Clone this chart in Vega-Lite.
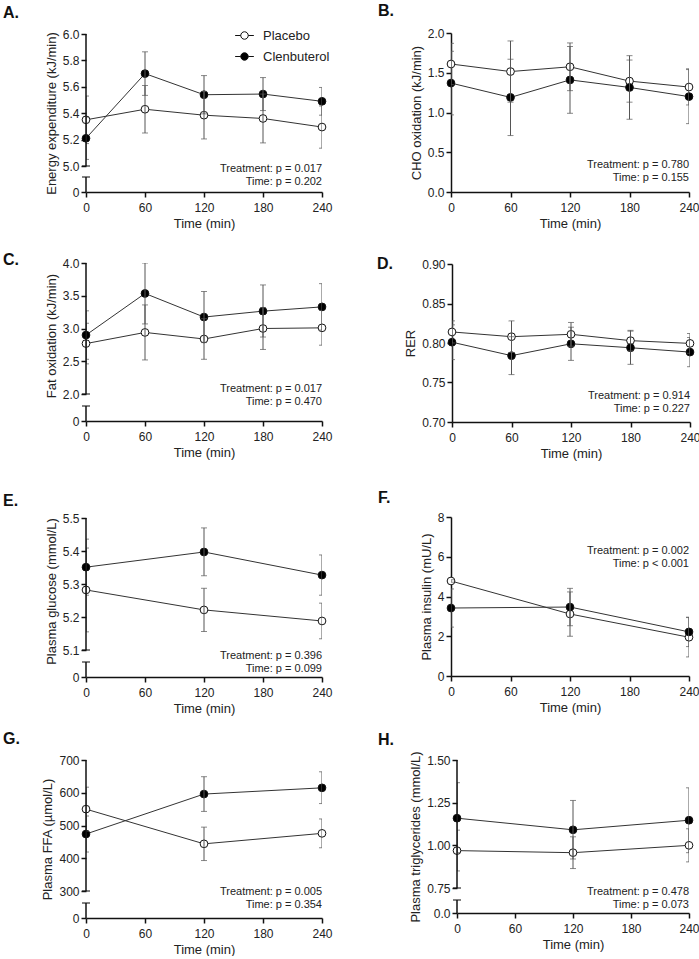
{
 "$schema": "https://vega.github.io/schema/vega-lite/v6.json",
 "padding": {"left": 3, "top": 3, "right": 0, "bottom": 0},
 "background": "white",
 "config": {
  "view": {"stroke": null},
  "font": "Liberation Sans",
  "axis": {"grid": false, "domainColor": "#111", "domainWidth": 1.5, "tickColor": "#111", "tickWidth": 1.5, "tickSize": 5, "labelFont": "Liberation Sans", "labelFontSize": 12, "labelColor": "#222", "titleFont": "Liberation Sans", "titleFontSize": 13, "titleFontWeight": "normal", "titleColor": "#222", "labelPadding": 2, "titlePadding": 4, "labelFlush": false, "labelOverlap": false},
  "axisX": {"labelPadding": 5, "titlePadding": 4, "titleFontWeight": "normal", "labelOverlap": false},
  "axisY": {"titleFontWeight": "normal", "labelOverlap": false},
  "title": {"font": "Liberation Sans", "fontSize": 16, "fontWeight": "bold", "anchor": "start", "frame": "group", "color": "#111"},
  "legend": {"labelFont": "Liberation Sans"}
 },
 "datasets": {
  "d": [
   {"p": "A", "g": "Placebo", "t": 0, "m": 5.35, "lo": 5.17, "hi": 5.53},
   {"p": "A", "g": "Placebo", "t": 60, "m": 5.43, "lo": 5.25, "hi": 5.61},
   {"p": "A", "g": "Placebo", "t": 120, "m": 5.385, "lo": 5.205, "hi": 5.565},
   {"p": "A", "g": "Placebo", "t": 180, "m": 5.36, "lo": 5.175, "hi": 5.545},
   {"p": "A", "g": "Placebo", "t": 240, "m": 5.295, "lo": 5.135, "hi": 5.455},
   {"p": "A", "g": "Clenbuterol", "t": 0, "m": 5.21, "lo": 5.05, "hi": 5.37},
   {"p": "A", "g": "Clenbuterol", "t": 60, "m": 5.70, "lo": 5.535, "hi": 5.865},
   {"p": "A", "g": "Clenbuterol", "t": 120, "m": 5.54, "lo": 5.395, "hi": 5.685},
   {"p": "A", "g": "Clenbuterol", "t": 180, "m": 5.545, "lo": 5.42, "hi": 5.67},
   {"p": "A", "g": "Clenbuterol", "t": 240, "m": 5.49, "lo": 5.385, "hi": 5.595},
   {"p": "B", "g": "Placebo", "t": 0, "m": 1.61, "lo": 1.35, "hi": 1.87},
   {"p": "B", "g": "Placebo", "t": 60, "m": 1.515, "lo": 1.13, "hi": 1.90},
   {"p": "B", "g": "Placebo", "t": 120, "m": 1.575, "lo": 1.275, "hi": 1.875},
   {"p": "B", "g": "Placebo", "t": 180, "m": 1.395, "lo": 1.13, "hi": 1.66},
   {"p": "B", "g": "Placebo", "t": 240, "m": 1.32, "lo": 1.095, "hi": 1.55},
   {"p": "B", "g": "Clenbuterol", "t": 0, "m": 1.37, "lo": 0.97, "hi": 1.77},
   {"p": "B", "g": "Clenbuterol", "t": 60, "m": 1.19, "lo": 0.71, "hi": 1.67},
   {"p": "B", "g": "Clenbuterol", "t": 120, "m": 1.41, "lo": 0.99, "hi": 1.83},
   {"p": "B", "g": "Clenbuterol", "t": 180, "m": 1.315, "lo": 0.915, "hi": 1.715},
   {"p": "B", "g": "Clenbuterol", "t": 240, "m": 1.20, "lo": 0.86, "hi": 1.54},
   {"p": "C", "g": "Placebo", "t": 0, "m": 2.77, "lo": 2.46, "hi": 3.08},
   {"p": "C", "g": "Placebo", "t": 60, "m": 2.94, "lo": 2.52, "hi": 3.36},
   {"p": "C", "g": "Placebo", "t": 120, "m": 2.84, "lo": 2.53, "hi": 3.15},
   {"p": "C", "g": "Placebo", "t": 180, "m": 3.0, "lo": 2.68, "hi": 3.32},
   {"p": "C", "g": "Placebo", "t": 240, "m": 3.01, "lo": 2.745, "hi": 3.275},
   {"p": "C", "g": "Clenbuterol", "t": 0, "m": 2.90, "lo": 2.53, "hi": 3.27},
   {"p": "C", "g": "Clenbuterol", "t": 60, "m": 3.535, "lo": 3.07, "hi": 4.0},
   {"p": "C", "g": "Clenbuterol", "t": 120, "m": 3.175, "lo": 2.785, "hi": 3.565},
   {"p": "C", "g": "Clenbuterol", "t": 180, "m": 3.265, "lo": 2.87, "hi": 3.665},
   {"p": "C", "g": "Clenbuterol", "t": 240, "m": 3.33, "lo": 2.975, "hi": 3.685},
   {"p": "D", "g": "Placebo", "t": 0, "m": 0.814, "lo": 0.800, "hi": 0.828},
   {"p": "D", "g": "Placebo", "t": 60, "m": 0.808, "lo": 0.788, "hi": 0.828},
   {"p": "D", "g": "Placebo", "t": 120, "m": 0.811, "lo": 0.796, "hi": 0.826},
   {"p": "D", "g": "Placebo", "t": 180, "m": 0.803, "lo": 0.790, "hi": 0.816},
   {"p": "D", "g": "Placebo", "t": 240, "m": 0.7995, "lo": 0.787, "hi": 0.812},
   {"p": "D", "g": "Clenbuterol", "t": 0, "m": 0.801, "lo": 0.779, "hi": 0.823},
   {"p": "D", "g": "Clenbuterol", "t": 60, "m": 0.784, "lo": 0.760, "hi": 0.808},
   {"p": "D", "g": "Clenbuterol", "t": 120, "m": 0.799, "lo": 0.778, "hi": 0.820},
   {"p": "D", "g": "Clenbuterol", "t": 180, "m": 0.794, "lo": 0.773, "hi": 0.815},
   {"p": "D", "g": "Clenbuterol", "t": 240, "m": 0.7885, "lo": 0.770, "hi": 0.807},
   {"p": "E", "g": "Placebo", "t": 0, "m": 5.282, "lo": 5.155, "hi": 5.409},
   {"p": "E", "g": "Placebo", "t": 120, "m": 5.2215, "lo": 5.156, "hi": 5.287},
   {"p": "E", "g": "Placebo", "t": 240, "m": 5.188, "lo": 5.134, "hi": 5.242},
   {"p": "E", "g": "Clenbuterol", "t": 0, "m": 5.351, "lo": 5.266, "hi": 5.436},
   {"p": "E", "g": "Clenbuterol", "t": 120, "m": 5.397, "lo": 5.325, "hi": 5.47},
   {"p": "E", "g": "Clenbuterol", "t": 240, "m": 5.327, "lo": 5.266, "hi": 5.388},
   {"p": "F", "g": "Placebo", "t": 0, "m": 4.78, "lo": 4.72, "hi": 4.84},
   {"p": "F", "g": "Placebo", "t": 120, "m": 3.12, "lo": 2.0, "hi": 4.23},
   {"p": "F", "g": "Placebo", "t": 240, "m": 1.95, "lo": 0.96, "hi": 2.94},
   {"p": "F", "g": "Clenbuterol", "t": 0, "m": 3.42, "lo": 2.46, "hi": 4.38},
   {"p": "F", "g": "Clenbuterol", "t": 120, "m": 3.47, "lo": 2.53, "hi": 4.41},
   {"p": "F", "g": "Clenbuterol", "t": 240, "m": 2.22, "lo": 1.48, "hi": 2.96},
   {"p": "G", "g": "Placebo", "t": 0, "m": 550, "lo": 483, "hi": 617},
   {"p": "G", "g": "Placebo", "t": 120, "m": 444, "lo": 393, "hi": 495},
   {"p": "G", "g": "Placebo", "t": 240, "m": 476, "lo": 432, "hi": 520},
   {"p": "G", "g": "Clenbuterol", "t": 0, "m": 474, "lo": 419, "hi": 529},
   {"p": "G", "g": "Clenbuterol", "t": 120, "m": 596, "lo": 543, "hi": 649},
   {"p": "G", "g": "Clenbuterol", "t": 240, "m": 615, "lo": 567, "hi": 664},
   {"p": "H", "g": "Placebo", "t": 0, "m": 0.969, "lo": 0.85, "hi": 1.089},
   {"p": "H", "g": "Placebo", "t": 120, "m": 0.957, "lo": 0.864, "hi": 1.05},
   {"p": "H", "g": "Placebo", "t": 240, "m": 1.0, "lo": 0.903, "hi": 1.097},
   {"p": "H", "g": "Clenbuterol", "t": 0, "m": 1.159, "lo": 0.957, "hi": 1.367},
   {"p": "H", "g": "Clenbuterol", "t": 120, "m": 1.091, "lo": 0.92, "hi": 1.263},
   {"p": "H", "g": "Clenbuterol", "t": 240, "m": 1.147, "lo": 0.957, "hi": 1.337}
  ],
  "ann": [
   {"p": "A", "txt": "Treatment: p = 0.017\nTime: p = 0.202"},
   {"p": "B", "txt": "Treatment: p = 0.780\nTime: p = 0.155"},
   {"p": "C", "txt": "Treatment: p = 0.017\nTime: p = 0.470"},
   {"p": "D", "txt": "Treatment: p = 0.914\nTime: p = 0.227"},
   {"p": "E", "txt": "Treatment: p = 0.396\nTime: p = 0.099"},
   {"p": "F", "txt": "Treatment: p = 0.002\nTime: p < 0.001"},
   {"p": "G", "txt": "Treatment: p = 0.005\nTime: p = 0.354"},
   {"p": "H", "txt": "Treatment: p = 0.478\nTime: p =  0.073"}
  ]
 },
 "spacing": 22,
 "resolve": {"scale": {"fill": "independent"}},
 "vconcat": [
  {"bounds": "flush", "spacing": 129, "resolve": {"scale": {"fill": "independent"}},
   "hconcat": [
    {"width": 236, "height": 159, "title": {"text": "A.", "dx": -83, "offset": 7}, "layer": [
     {"data": {"name": "d"}, "transform": [{"filter": "datum.p == 'A'"}],
      "encoding": {"x": {"field": "t", "type": "quantitative", "scale": {"domain": [0, 240], "nice": false}, "axis": {"values": [0, 60, 120, 180, 240], "tickCount": 20, "format": "d", "title": "Time (min)", "labelOverlap": false}}},
      "layer": [
       {"mark": {"type": "line", "color": "#333", "strokeWidth": 1}, "encoding": {"y": {"field": "m", "type": "quantitative", "scale": {"domain": [0, 1, 5, 6], "range": [159, 144, 133, 1], "nice": false, "zero": false}, "axis": {"title": "Energy expenditure (kJ/min)", "values": [0, 5, 5.2, 5.4, 5.6, 5.8, 6], "tickCount": 20, "labelExpr": "datum.value == 0 ? '0' : format(datum.value, '.1f')", "domain": false, "labelOverlap": false}}, "detail": {"field": "g"}}},
       {"mark": {"type": "point", "shape": "circle", "filled": true, "size": 60, "stroke": "#111", "strokeWidth": 1, "opacity": 1}, "encoding": {"y": {"field": "m", "type": "quantitative"}, "fill": {"field": "g", "type": "nominal", "scale": {"domain": ["Placebo", "Clenbuterol"], "range": ["white", "black"]}, "legend": {"orient": "none", "legendX": 152, "legendY": -4, "title": null, "symbolType": "M-1,0A1,1,0,1,1,1,0A1,1,0,1,1,-1,0ZM-2.5,0L-1,0M1,0L2.5,0", "symbolSize": 56, "symbolStrokeWidth": 1, "symbolStrokeColor": "#111", "labelFontSize": 13, "labelOffset": 12, "rowPadding": 7, "padding": 0, "labelColor": "#222"}}}},
       {"mark": {"type": "rule", "color": "#555", "strokeWidth": 1, "clip": true}, "encoding": {"y": {"field": "lo", "type": "quantitative"}, "y2": {"field": "hi"}}},
       {"mark": {"type": "tick", "orient": "horizontal", "size": 6, "thickness": 1, "color": "#555", "clip": true}, "encoding": {"y": {"field": "lo", "type": "quantitative"}}},
       {"mark": {"type": "tick", "orient": "horizontal", "size": 6, "thickness": 1, "color": "#555", "clip": true}, "encoding": {"y": {"field": "hi", "type": "quantitative"}}}
      ]},
     {"data": {"name": "ann"}, "transform": [{"filter": "datum.p == 'A'"}], "mark": {"type": "text", "align": "right", "baseline": "middle", "fontSize": 11, "lineHeight": 13, "lineBreak": "\n", "dy": 3, "color": "#222"}, "encoding": {"x": {"datum": 240, "type": "quantitative"}, "y": {"datum": 5, "type": "quantitative"}, "text": {"field": "txt"}}},
     {"data": {"values": [{}]}, "mark": {"type": "rule", "color": "#111", "strokeWidth": 1.5}, "encoding": {"x": {"datum": 0, "type": "quantitative"}, "y": {"datum": 5, "type": "quantitative"}, "y2": {"datum": 6}}},
     {"data": {"values": [{}]}, "mark": {"type": "rule", "color": "#111", "strokeWidth": 1.5}, "encoding": {"x": {"datum": 0, "type": "quantitative"}, "y": {"datum": 0, "type": "quantitative"}, "y2": {"datum": 1}}},
     {"data": {"values": [{}]}, "mark": {"type": "tick", "orient": "horizontal", "size": 8, "thickness": 1.5, "color": "#111"}, "encoding": {"x": {"datum": 0, "type": "quantitative"}, "y": {"datum": 5, "type": "quantitative"}}},
     {"data": {"values": [{}]}, "mark": {"type": "tick", "orient": "horizontal", "size": 8, "thickness": 1.5, "color": "#111"}, "encoding": {"x": {"datum": 0, "type": "quantitative"}, "y": {"datum": 1, "type": "quantitative"}}}
    ]},
    {"width": 238, "height": 159, "title": {"text": "B.", "dx": -73, "offset": 8}, "layer": [
     {"data": {"name": "d"}, "transform": [{"filter": "datum.p == 'B'"}],
      "encoding": {"x": {"field": "t", "type": "quantitative", "scale": {"domain": [0, 240], "nice": false}, "axis": {"values": [0, 60, 120, 180, 240], "tickCount": 20, "format": "d", "title": "Time (min)", "labelOverlap": false}}},
      "layer": [
       {"mark": {"type": "line", "color": "#333", "strokeWidth": 1}, "encoding": {"y": {"field": "m", "type": "quantitative", "scale": {"domain": [0, 2], "nice": false}, "axis": {"title": "CHO oxidation (kJ/min)", "values": [0, 0.5, 1, 1.5, 2], "tickCount": 20, "format": ".1f", "labelOverlap": false}}, "detail": {"field": "g"}}},
       {"mark": {"type": "point", "shape": "circle", "filled": true, "size": 60, "stroke": "#111", "strokeWidth": 1, "opacity": 1}, "encoding": {"y": {"field": "m", "type": "quantitative"}, "fill": {"field": "g", "type": "nominal", "scale": {"domain": ["Placebo", "Clenbuterol"], "range": ["white", "black"]}, "legend": null}}},
       {"mark": {"type": "rule", "color": "#555", "strokeWidth": 1, "clip": true}, "encoding": {"y": {"field": "lo", "type": "quantitative"}, "y2": {"field": "hi"}}},
       {"mark": {"type": "tick", "orient": "horizontal", "size": 6, "thickness": 1, "color": "#555", "clip": true}, "encoding": {"y": {"field": "lo", "type": "quantitative"}}},
       {"mark": {"type": "tick", "orient": "horizontal", "size": 6, "thickness": 1, "color": "#555", "clip": true}, "encoding": {"y": {"field": "hi", "type": "quantitative"}}}
      ]},
     {"data": {"name": "ann"}, "transform": [{"filter": "datum.p == 'B'"}], "mark": {"type": "text", "align": "right", "baseline": "middle", "fontSize": 11, "lineHeight": 13, "lineBreak": "\n", "dy": -27, "color": "#222"}, "encoding": {"x": {"datum": 240, "type": "quantitative"}, "y": {"datum": 0, "type": "quantitative"}, "text": {"field": "txt"}}}
    ]}
   ]},
  {"spacing": 30, "resolve": {"scale": {"fill": "independent"}},
   "vconcat": [
    {"bounds": "flush", "spacing": 130, "resolve": {"scale": {"fill": "independent"}},
     "hconcat": [
      {"width": 236, "height": 158, "title": {"text": "C.", "dx": -83, "offset": -11}, "layer": [
       {"data": {"name": "d"}, "transform": [{"filter": "datum.p == 'C'"}],
        "encoding": {"x": {"field": "t", "type": "quantitative", "scale": {"domain": [0, 240], "nice": false}, "axis": {"values": [0, 60, 120, 180, 240], "tickCount": 20, "format": "d", "title": "Time (min)", "labelOverlap": false}}},
        "layer": [
         {"mark": {"type": "line", "color": "#333", "strokeWidth": 1}, "encoding": {"y": {"field": "m", "type": "quantitative", "scale": {"domain": [0, 1, 2, 4], "range": [158, 143, 131, 0], "nice": false, "zero": false}, "axis": {"title": "Fat oxidation (kJ/min)", "values": [0, 2, 2.5, 3, 3.5, 4], "tickCount": 20, "labelExpr": "datum.value == 0 ? '0' : format(datum.value, '.1f')", "domain": false, "titleY": 72.5, "labelOverlap": false}}, "detail": {"field": "g"}}},
         {"mark": {"type": "point", "shape": "circle", "filled": true, "size": 60, "stroke": "#111", "strokeWidth": 1, "opacity": 1}, "encoding": {"y": {"field": "m", "type": "quantitative"}, "fill": {"field": "g", "type": "nominal", "scale": {"domain": ["Placebo", "Clenbuterol"], "range": ["white", "black"]}, "legend": null}}},
         {"mark": {"type": "rule", "color": "#555", "strokeWidth": 1, "clip": true}, "encoding": {"y": {"field": "lo", "type": "quantitative"}, "y2": {"field": "hi"}}},
         {"mark": {"type": "tick", "orient": "horizontal", "size": 6, "thickness": 1, "color": "#555", "clip": true}, "encoding": {"y": {"field": "lo", "type": "quantitative"}}},
         {"mark": {"type": "tick", "orient": "horizontal", "size": 6, "thickness": 1, "color": "#555", "clip": true}, "encoding": {"y": {"field": "hi", "type": "quantitative"}}}
        ]},
       {"data": {"name": "ann"}, "transform": [{"filter": "datum.p == 'C'"}], "mark": {"type": "text", "align": "right", "baseline": "middle", "fontSize": 11, "lineHeight": 13, "lineBreak": "\n", "dy": -5.5, "color": "#222"}, "encoding": {"x": {"datum": 240, "type": "quantitative"}, "y": {"datum": 2, "type": "quantitative"}, "text": {"field": "txt"}}},
       {"data": {"values": [{}]}, "mark": {"type": "rule", "color": "#111", "strokeWidth": 1.5}, "encoding": {"x": {"datum": 0, "type": "quantitative"}, "y": {"datum": 2, "type": "quantitative"}, "y2": {"datum": 4}}},
       {"data": {"values": [{}]}, "mark": {"type": "rule", "color": "#111", "strokeWidth": 1.5}, "encoding": {"x": {"datum": 0, "type": "quantitative"}, "y": {"datum": 0, "type": "quantitative"}, "y2": {"datum": 1}}},
       {"data": {"values": [{}]}, "mark": {"type": "tick", "orient": "horizontal", "size": 8, "thickness": 1.5, "color": "#111"}, "encoding": {"x": {"datum": 0, "type": "quantitative"}, "y": {"datum": 2, "type": "quantitative"}}},
       {"data": {"values": [{}]}, "mark": {"type": "tick", "orient": "horizontal", "size": 8, "thickness": 1.5, "color": "#111"}, "encoding": {"x": {"datum": 0, "type": "quantitative"}, "y": {"datum": 1, "type": "quantitative"}}}
      ]},
      {"width": 238, "height": 159, "title": {"text": "D.", "dx": -75, "offset": -14}, "layer": [
       {"data": {"name": "d"}, "transform": [{"filter": "datum.p == 'D'"}],
        "encoding": {"x": {"field": "t", "type": "quantitative", "scale": {"domain": [0, 240], "nice": false}, "axis": {"values": [0, 60, 120, 180, 240], "tickCount": 20, "format": "d", "title": "Time (min)", "labelOverlap": false}}},
        "layer": [
         {"mark": {"type": "line", "color": "#333", "strokeWidth": 1}, "encoding": {"y": {"field": "m", "type": "quantitative", "scale": {"domain": [0.7, 0.9], "range": [159, 1], "nice": false, "zero": false}, "axis": {"title": "RER", "values": [0.7, 0.75, 0.8, 0.85, 0.9], "tickCount": 20, "format": ".2f", "labelOverlap": false}}, "detail": {"field": "g"}}},
         {"mark": {"type": "point", "shape": "circle", "filled": true, "size": 60, "stroke": "#111", "strokeWidth": 1, "opacity": 1}, "encoding": {"y": {"field": "m", "type": "quantitative"}, "fill": {"field": "g", "type": "nominal", "scale": {"domain": ["Placebo", "Clenbuterol"], "range": ["white", "black"]}, "legend": null}}},
         {"mark": {"type": "rule", "color": "#555", "strokeWidth": 1, "clip": true}, "encoding": {"y": {"field": "lo", "type": "quantitative"}, "y2": {"field": "hi"}}},
         {"mark": {"type": "tick", "orient": "horizontal", "size": 6, "thickness": 1, "color": "#555", "clip": true}, "encoding": {"y": {"field": "lo", "type": "quantitative"}}},
         {"mark": {"type": "tick", "orient": "horizontal", "size": 6, "thickness": 1, "color": "#555", "clip": true}, "encoding": {"y": {"field": "hi", "type": "quantitative"}}}
        ]},
       {"data": {"name": "ann"}, "transform": [{"filter": "datum.p == 'D'"}], "mark": {"type": "text", "align": "right", "baseline": "middle", "fontSize": 11, "lineHeight": 13, "lineBreak": "\n", "dy": -26, "color": "#222"}, "encoding": {"x": {"datum": 240, "type": "quantitative"}, "y": {"datum": 0.7, "type": "quantitative"}, "text": {"field": "txt"}}}
      ]}
     ]},
    {"spacing": 16, "resolve": {"scale": {"fill": "independent"}},
     "vconcat": [
      {"bounds": "flush", "spacing": 129, "resolve": {"scale": {"fill": "independent"}},
       "hconcat": [
        {"width": 236, "height": 160, "title": {"text": "E.", "dx": -83, "offset": 3}, "layer": [
         {"data": {"name": "d"}, "transform": [{"filter": "datum.p == 'E'"}],
          "encoding": {"x": {"field": "t", "type": "quantitative", "scale": {"domain": [0, 240], "nice": false}, "axis": {"values": [0, 60, 120, 180, 240], "tickCount": 20, "format": "d", "title": "Time (min)", "labelOverlap": false}}},
          "layer": [
           {"mark": {"type": "line", "color": "#333", "strokeWidth": 1}, "encoding": {"y": {"field": "m", "type": "quantitative", "scale": {"domain": [0, 1, 5.1, 5.5], "range": [160, 145, 133, 1], "nice": false, "zero": false}, "axis": {"title": "Plasma glucose (mmol/L)", "values": [0, 5.1, 5.2, 5.3, 5.4, 5.5], "tickCount": 20, "labelExpr": "datum.value == 0 ? '0' : format(datum.value, '.1f')", "domain": false, "titleY": 74, "labelOverlap": false}}, "detail": {"field": "g"}}},
           {"mark": {"type": "point", "shape": "circle", "filled": true, "size": 60, "stroke": "#111", "strokeWidth": 1, "opacity": 1}, "encoding": {"y": {"field": "m", "type": "quantitative"}, "fill": {"field": "g", "type": "nominal", "scale": {"domain": ["Placebo", "Clenbuterol"], "range": ["white", "black"]}, "legend": null}}},
           {"mark": {"type": "rule", "color": "#555", "strokeWidth": 1, "clip": true}, "encoding": {"y": {"field": "lo", "type": "quantitative"}, "y2": {"field": "hi"}}},
           {"mark": {"type": "tick", "orient": "horizontal", "size": 6, "thickness": 1, "color": "#555", "clip": true}, "encoding": {"y": {"field": "lo", "type": "quantitative"}}},
           {"mark": {"type": "tick", "orient": "horizontal", "size": 6, "thickness": 1, "color": "#555", "clip": true}, "encoding": {"y": {"field": "hi", "type": "quantitative"}}}
          ]},
         {"data": {"name": "ann"}, "transform": [{"filter": "datum.p == 'E'"}], "mark": {"type": "text", "align": "right", "baseline": "middle", "fontSize": 11, "lineHeight": 13, "lineBreak": "\n", "dy": 6, "color": "#222"}, "encoding": {"x": {"datum": 240, "type": "quantitative"}, "y": {"datum": 5.1, "type": "quantitative"}, "text": {"field": "txt"}}},
         {"data": {"values": [{}]}, "mark": {"type": "rule", "color": "#111", "strokeWidth": 1.5}, "encoding": {"x": {"datum": 0, "type": "quantitative"}, "y": {"datum": 5.1, "type": "quantitative"}, "y2": {"datum": 5.5}}},
         {"data": {"values": [{}]}, "mark": {"type": "rule", "color": "#111", "strokeWidth": 1.5}, "encoding": {"x": {"datum": 0, "type": "quantitative"}, "y": {"datum": 0, "type": "quantitative"}, "y2": {"datum": 1}}},
         {"data": {"values": [{}]}, "mark": {"type": "tick", "orient": "horizontal", "size": 8, "thickness": 1.5, "color": "#111"}, "encoding": {"x": {"datum": 0, "type": "quantitative"}, "y": {"datum": 5.1, "type": "quantitative"}}},
         {"data": {"values": [{}]}, "mark": {"type": "tick", "orient": "horizontal", "size": 8, "thickness": 1.5, "color": "#111"}, "encoding": {"x": {"datum": 0, "type": "quantitative"}, "y": {"datum": 1, "type": "quantitative"}}}
        ]},
        {"width": 238, "height": 159, "title": {"text": "F.", "dx": -73, "offset": 5}, "layer": [
         {"data": {"name": "d"}, "transform": [{"filter": "datum.p == 'F'"}],
          "encoding": {"x": {"field": "t", "type": "quantitative", "scale": {"domain": [0, 240], "nice": false}, "axis": {"values": [0, 60, 120, 180, 240], "tickCount": 20, "format": "d", "title": "Time (min)", "labelOverlap": false}}},
          "layer": [
           {"mark": {"type": "line", "color": "#333", "strokeWidth": 1}, "encoding": {"y": {"field": "m", "type": "quantitative", "scale": {"domain": [0, 8], "nice": false}, "axis": {"title": "Plasma insulin (mU/L)", "values": [0, 2, 4, 6, 8], "tickCount": 20, "format": "d", "labelOverlap": false}}, "detail": {"field": "g"}}},
           {"mark": {"type": "point", "shape": "circle", "filled": true, "size": 60, "stroke": "#111", "strokeWidth": 1, "opacity": 1}, "encoding": {"y": {"field": "m", "type": "quantitative"}, "fill": {"field": "g", "type": "nominal", "scale": {"domain": ["Placebo", "Clenbuterol"], "range": ["white", "black"]}, "legend": null}}},
           {"mark": {"type": "rule", "color": "#555", "strokeWidth": 1, "clip": true}, "encoding": {"y": {"field": "lo", "type": "quantitative"}, "y2": {"field": "hi"}}},
           {"mark": {"type": "tick", "orient": "horizontal", "size": 6, "thickness": 1, "color": "#555", "clip": true}, "encoding": {"y": {"field": "lo", "type": "quantitative"}}},
           {"mark": {"type": "tick", "orient": "horizontal", "size": 6, "thickness": 1, "color": "#555", "clip": true}, "encoding": {"y": {"field": "hi", "type": "quantitative"}}}
          ]},
         {"data": {"name": "ann"}, "transform": [{"filter": "datum.p == 'F'"}], "mark": {"type": "text", "align": "right", "baseline": "middle", "fontSize": 11, "lineHeight": 13, "lineBreak": "\n", "dy": 34, "color": "#222"}, "encoding": {"x": {"datum": 240, "type": "quantitative"}, "y": {"datum": 8, "type": "quantitative"}, "text": {"field": "txt"}}}
        ]}
       ]},
      {"bounds": "flush", "spacing": 135, "resolve": {"scale": {"fill": "independent"}},
       "hconcat": [
        {"width": 236, "height": 158, "title": {"text": "G.", "dx": -83, "offset": 7}, "layer": [
         {"data": {"name": "d"}, "transform": [{"filter": "datum.p == 'G'"}],
          "encoding": {"x": {"field": "t", "type": "quantitative", "scale": {"domain": [0, 240], "nice": false}, "axis": {"values": [0, 60, 120, 180, 240], "tickCount": 20, "format": "d", "title": "Time (min)", "labelOverlap": false}}},
          "layer": [
           {"mark": {"type": "line", "color": "#333", "strokeWidth": 1}, "encoding": {"y": {"field": "m", "type": "quantitative", "scale": {"domain": [0, 100, 300, 700], "range": [158, 143, 131, 0], "nice": false, "zero": false}, "axis": {"title": "Plasma FFA (µmol/L)", "values": [0, 300, 400, 500, 600, 700], "tickCount": 20, "format": "d", "domain": false, "labelOverlap": false}}, "detail": {"field": "g"}}},
           {"mark": {"type": "point", "shape": "circle", "filled": true, "size": 60, "stroke": "#111", "strokeWidth": 1, "opacity": 1}, "encoding": {"y": {"field": "m", "type": "quantitative"}, "fill": {"field": "g", "type": "nominal", "scale": {"domain": ["Placebo", "Clenbuterol"], "range": ["white", "black"]}, "legend": null}}},
           {"mark": {"type": "rule", "color": "#555", "strokeWidth": 1, "clip": true}, "encoding": {"y": {"field": "lo", "type": "quantitative"}, "y2": {"field": "hi"}}},
           {"mark": {"type": "tick", "orient": "horizontal", "size": 6, "thickness": 1, "color": "#555", "clip": true}, "encoding": {"y": {"field": "lo", "type": "quantitative"}}},
           {"mark": {"type": "tick", "orient": "horizontal", "size": 6, "thickness": 1, "color": "#555", "clip": true}, "encoding": {"y": {"field": "hi", "type": "quantitative"}}}
          ]},
         {"data": {"name": "ann"}, "transform": [{"filter": "datum.p == 'G'"}], "mark": {"type": "text", "align": "right", "baseline": "middle", "fontSize": 11, "lineHeight": 13, "lineBreak": "\n", "dy": 0.5, "color": "#222"}, "encoding": {"x": {"datum": 240, "type": "quantitative"}, "y": {"datum": 300, "type": "quantitative"}, "text": {"field": "txt"}}},
         {"data": {"values": [{}]}, "mark": {"type": "rule", "color": "#111", "strokeWidth": 1.5}, "encoding": {"x": {"datum": 0, "type": "quantitative"}, "y": {"datum": 300, "type": "quantitative"}, "y2": {"datum": 700}}},
         {"data": {"values": [{}]}, "mark": {"type": "rule", "color": "#111", "strokeWidth": 1.5}, "encoding": {"x": {"datum": 0, "type": "quantitative"}, "y": {"datum": 0, "type": "quantitative"}, "y2": {"datum": 100}}},
         {"data": {"values": [{}]}, "mark": {"type": "tick", "orient": "horizontal", "size": 8, "thickness": 1.5, "color": "#111"}, "encoding": {"x": {"datum": 0, "type": "quantitative"}, "y": {"datum": 300, "type": "quantitative"}}},
         {"data": {"values": [{}]}, "mark": {"type": "tick", "orient": "horizontal", "size": 8, "thickness": 1.5, "color": "#111"}, "encoding": {"x": {"datum": 0, "type": "quantitative"}, "y": {"datum": 100, "type": "quantitative"}}}
        ]},
        {"width": 232, "height": 153, "title": {"text": "H.", "dx": -79, "offset": 3}, "layer": [
         {"data": {"name": "d"}, "transform": [{"filter": "datum.p == 'H'"}],
          "encoding": {"x": {"field": "t", "type": "quantitative", "scale": {"domain": [0, 240], "nice": false}, "axis": {"values": [0, 60, 120, 180, 240], "tickCount": 20, "format": "d", "title": "Time (min)", "labelOverlap": false}}},
          "layer": [
           {"mark": {"type": "line", "color": "#333", "strokeWidth": 1}, "encoding": {"y": {"field": "m", "type": "quantitative", "scale": {"domain": [0, 0.3, 0.75, 1.5], "range": [153, 140, 128, 0], "nice": false, "zero": false}, "axis": {"title": "Plasma triglycerides (mmol/L)", "values": [0, 0.75, 1, 1.25, 1.5], "tickCount": 20, "labelExpr": "datum.value == 0 ? '0.0' : format(datum.value, '.2f')", "domain": false, "labelOverlap": false}}, "detail": {"field": "g"}}},
           {"mark": {"type": "point", "shape": "circle", "filled": true, "size": 60, "stroke": "#111", "strokeWidth": 1, "opacity": 1}, "encoding": {"y": {"field": "m", "type": "quantitative"}, "fill": {"field": "g", "type": "nominal", "scale": {"domain": ["Placebo", "Clenbuterol"], "range": ["white", "black"]}, "legend": null}}},
           {"mark": {"type": "rule", "color": "#555", "strokeWidth": 1, "clip": true}, "encoding": {"y": {"field": "lo", "type": "quantitative"}, "y2": {"field": "hi"}}},
           {"mark": {"type": "tick", "orient": "horizontal", "size": 6, "thickness": 1, "color": "#555", "clip": true}, "encoding": {"y": {"field": "lo", "type": "quantitative"}}},
           {"mark": {"type": "tick", "orient": "horizontal", "size": 6, "thickness": 1, "color": "#555", "clip": true}, "encoding": {"y": {"field": "hi", "type": "quantitative"}}}
          ]},
         {"data": {"name": "ann"}, "transform": [{"filter": "datum.p == 'H'"}], "mark": {"type": "text", "align": "right", "baseline": "middle", "fontSize": 11, "lineHeight": 13, "lineBreak": "\n", "dy": 3.5, "color": "#222"}, "encoding": {"x": {"datum": 240, "type": "quantitative"}, "y": {"datum": 0.75, "type": "quantitative"}, "text": {"field": "txt"}}},
         {"data": {"values": [{}]}, "mark": {"type": "rule", "color": "#111", "strokeWidth": 1.5}, "encoding": {"x": {"datum": 0, "type": "quantitative"}, "y": {"datum": 0.75, "type": "quantitative"}, "y2": {"datum": 1.5}}},
         {"data": {"values": [{}]}, "mark": {"type": "rule", "color": "#111", "strokeWidth": 1.5}, "encoding": {"x": {"datum": 0, "type": "quantitative"}, "y": {"datum": 0, "type": "quantitative"}, "y2": {"datum": 0.3}}},
         {"data": {"values": [{}]}, "mark": {"type": "tick", "orient": "horizontal", "size": 8, "thickness": 1.5, "color": "#111"}, "encoding": {"x": {"datum": 0, "type": "quantitative"}, "y": {"datum": 0.75, "type": "quantitative"}}},
         {"data": {"values": [{}]}, "mark": {"type": "tick", "orient": "horizontal", "size": 8, "thickness": 1.5, "color": "#111"}, "encoding": {"x": {"datum": 0, "type": "quantitative"}, "y": {"datum": 0.3, "type": "quantitative"}}}
        ]}
       ]}
     ]}
   ]}
 ]
}
